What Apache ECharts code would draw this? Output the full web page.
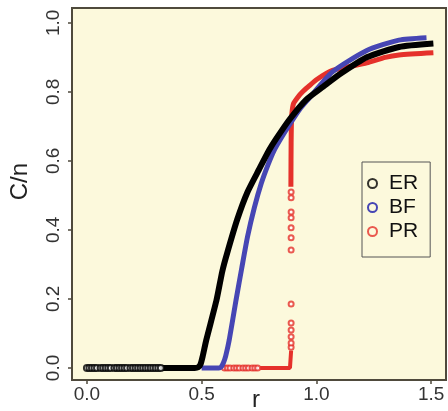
<!DOCTYPE html>
<html>
<head>
<meta charset="utf-8">
<script src="https://cdn.jsdelivr.net/npm/echarts@6/dist/echarts.min.js"></script>
<style>
  html, body { margin: 0; padding: 0; background: #fff; }
  #chart { width: 448px; height: 411px; }
</style>
</head>
<body>
<div id="chart"></div>
<script>
// tick labels
const xTicks = [0, 0.5, 1.0, 1.5];
const yTicks = [0, 0.2, 0.4, 0.6, 0.8, 1.0];

// ER (black)
const erDotR = [0, 0.011, 0.022, 0.033, 0.044, 0.06, 0.071, 0.082, 0.093, 0.104, 0.12, 0.131, 0.142, 0.153, 0.164, 0.175, 0.19, 0.201, 0.212, 0.223, 0.234, 0.245, 0.256, 0.267, 0.278, 0.289, 0.3, 0.311, 0.322];
const erR = [0.32, 0.40, 0.47, 0.485, 0.495, 0.505, 0.52, 0.565, 0.59, 0.61, 0.655, 0.70, 0.75, 0.795, 0.826, 0.883, 0.955, 1.03, 1.1, 1.22, 1.36, 1.51];
const erV = [0, 0, 0, 0.002, 0.01, 0.035, 0.08, 0.197, 0.28, 0.33, 0.43, 0.51, 0.575, 0.632, 0.665, 0.72, 0.777, 0.815, 0.85, 0.90, 0.93, 0.94];

// BF (blue)
const bfR = [0.50, 0.575, 0.585, 0.595, 0.605, 0.62, 0.65, 0.675, 0.70, 0.73, 0.76, 0.79, 0.817, 0.848, 0.883, 0.926, 0.96, 1.07, 1.22, 1.36, 1.48];
const bfV = [0, 0, 0.003, 0.015, 0.035, 0.08, 0.197, 0.29, 0.38, 0.465, 0.535, 0.59, 0.632, 0.668, 0.705, 0.748, 0.775, 0.858, 0.92, 0.95, 0.957];

// PR (red)
const prDotR = [0.60, 0.612, 0.624, 0.64, 0.652, 0.664, 0.68, 0.692, 0.704, 0.72, 0.732, 0.744, 0.89, 0.89, 0.89, 0.89, 0.89, 0.89, 0.89, 0.89, 0.89, 0.89, 0.89, 0.89, 0.89];
const prDotV = [0, 0, 0, 0, 0, 0, 0, 0, 0, 0, 0, 0, 0.06, 0.072, 0.09, 0.11, 0.13, 0.185, 0.342, 0.377, 0.406, 0.435, 0.452, 0.493, 0.51];
const prLowR = [0.755, 0.80, 0.85, 0.885, 0.89];
const prLowV = [0, 0, 0, 0, 0.05];
const prR = [0.889, 0.8895, 0.89, 0.891, 0.893, 0.90, 0.92, 0.94, 0.965, 1.0, 1.07, 1.22, 1.3, 1.36, 1.51];
const prV = [0.525, 0.60, 0.652, 0.70, 0.735, 0.765, 0.785, 0.80, 0.815, 0.835, 0.862, 0.884, 0.90, 0.907, 0.913];

const pairs = (xs, ys) => xs.map((x, i) => [x, ys[i]]);
const BLACK = '#000000', BLUE = '#4646b4', RED = '#e5312b';
const FRAME = '#4f4a3c';

const chart = echarts.init(document.getElementById('chart'));
const font = 'Liberation Sans';

chart.setOption({
  animation: false,
  backgroundColor: '#ffffff',
  grid: {
    left: 72, right: 2, top: 8, bottom: 31,
    show: true, backgroundColor: '#fcf9dc',
    borderColor: FRAME, borderWidth: 2
  },
  xAxis: {
    type: 'value', min: -0.065, max: 1.565,
    axisLine: { show: true, onZero: false, lineStyle: { color: FRAME, width: 2 } },
    splitLine: { show: false },
    axisTick: { show: true, inside: false, length: 4, customValues: xTicks, lineStyle: { color: FRAME, width: 1.5 } },
    axisLabel: { customValues: xTicks, margin: 5, fontSize: 19, color: '#333', fontFamily: font, formatter: v => v.toFixed(1) }
  },
  yAxis: {
    type: 'value', min: -0.035, max: 1.043,
    axisLine: { show: true, onZero: false, lineStyle: { color: FRAME, width: 2 } },
    splitLine: { show: false },
    axisTick: { show: true, inside: false, length: 4, customValues: yTicks, lineStyle: { color: FRAME, width: 1.5 } },
    axisLabel: { customValues: yTicks, rotate: 90, margin: 9, fontSize: 19, color: '#333', fontFamily: font, formatter: v => v.toFixed(1) }
  },
  legend: {
    orient: 'vertical', left: 362, top: 162,
    padding: [11, 12, 15, 5], itemGap: 3,
    itemWidth: 9, itemHeight: 11,
    backgroundColor: '#fcf9dc', borderColor: '#555', borderWidth: 1,
    textStyle: { fontSize: 21, color: '#111', fontFamily: font, padding: [0, 0, 0, 7] },
    data: [
      { name: 'ER', icon: 'circle', itemStyle: { color: 'transparent', borderColor: BLACK, borderWidth: 2 } },
      { name: 'BF', icon: 'circle', itemStyle: { color: 'transparent', borderColor: BLUE, borderWidth: 2 } },
      { name: 'PR', icon: 'circle', itemStyle: { color: 'transparent', borderColor: RED, borderWidth: 2 } }
    ]
  },
  graphic: [
    { type: 'text', left: 8, top: 163, rotation: Math.PI / 2,
      style: { text: 'C/n', fontSize: 24, fill: '#222', fontFamily: font } },
    { type: 'text', left: 252, top: 388,
      style: { text: 'r', fontSize: 24, fill: '#222', fontFamily: font } }
  ],
  series: [
    { name: 'PR', type: 'scatter', data: pairs(prDotR, prDotV), symbol: 'emptyCircle', symbolSize: 5,
      itemStyle: { color: RED, borderColor: RED, borderWidth: 1.3 }, z: 2 },
    { name: 'PR', type: 'line', data: pairs(prLowR, prLowV), showSymbol: false,
      lineStyle: { color: RED, width: 4 }, itemStyle: { color: RED }, z: 2 },
    { name: 'PR', type: 'line', data: pairs(prR, prV), showSymbol: false, smooth: 0.2,
      lineStyle: { color: RED, width: 5 }, itemStyle: { color: RED }, z: 2 },
    { name: 'BF', type: 'line', data: pairs(bfR, bfV), showSymbol: false, smooth: 0.2,
      lineStyle: { color: BLUE, width: 5 }, itemStyle: { color: BLUE }, z: 3 },
    { name: 'ER', type: 'scatter', data: erDotR.map(x => [x, 0]), symbol: 'emptyCircle', symbolSize: 6,
      itemStyle: { color: BLACK, borderColor: BLACK, borderWidth: 1.8 }, z: 4 },
    { name: 'ER', type: 'line', data: pairs(erR, erV), showSymbol: false, smooth: 0.2,
      lineStyle: { color: BLACK, width: 6 }, itemStyle: { color: BLACK }, z: 4 }
  ]
});
</script>
</body>
</html>
